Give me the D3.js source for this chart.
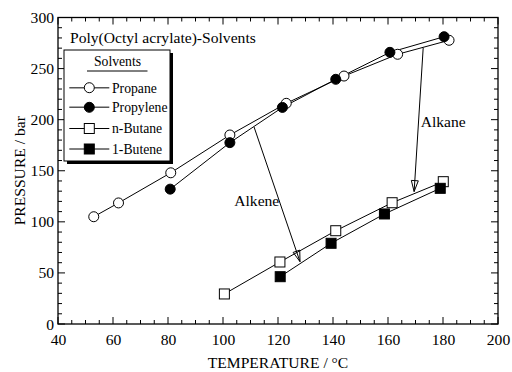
<!DOCTYPE html>
<html><head><meta charset="utf-8">
<script src="https://cdn.jsdelivr.net/npm/d3@7"></script>
<style>
html,body{margin:0;padding:0;background:#fff;}
svg{display:block;}
svg text{font-family:"Liberation Serif","Times New Roman","DejaVu Serif",serif !important;fill:#000;}
</style></head>
<body>
<svg id="c" width="512" height="372"></svg>
<script>
// ---- data ----
const propaneT   = [53, 62, 81, 102.5, 123, 144, 163.5, 182.2];
const propaneP   = [105, 118.5, 148, 185, 216, 242.7, 264, 277.7];
const propyleneT = [80.8, 102.5, 121.6, 141, 160.7, 180.4];
const propyleneP = [132, 177.5, 212, 239.5, 265.9, 281.2];
const nButaneT   = [100.5, 120.7, 141, 161.5, 180.1];
const nButaneP   = [29.4, 60.7, 91.3, 118.7, 139.3];
const buteneT    = [120.8, 139.3, 158.7, 179];
const buteneP    = [46.3, 79, 107.7, 132.8];
const seriesNames = ["Propane", "Propylene", "n-Butane", "1-Butene"];
const xTicks = [40, 60, 80, 100, 120, 140, 160, 180, 200];
const yTicks = [0, 50, 100, 150, 200, 250, 300];
const arrowLabels = ["Alkene", "Alkane"];
const arrowFromT = [111.3, 172.8];
const arrowFromP = [192.8, 270.4];
const arrowToT   = [128, 169.5];
const arrowToP   = [61, 129.6];
const labelT = [104.1, 171.9];
const labelP = [115.5, 193.1];
const titleText = "Poly(Octyl acrylate)-Solvents";
const legendTitle = "Solvents";

// ---- layout ----
const L = 58, T = 17.5, R = 498, B = 324;
const svg = d3.select("#c");
const x = d3.scaleLinear().domain([40, 200]).range([L, R]);
const y = d3.scaleLinear().domain([0, 300]).range([B, T]);

const FS = 15.6;
const FONT = "Liberation Serif";

// frame
svg.append("rect").attr("x", L).attr("y", T).attr("width", R - L).attr("height", B - T)
  .attr("fill", "none").attr("stroke", "#000").attr("stroke-width", 1.3);

// ticks (inward on all sides)
const xMinor = d3.range(40, 201, 5);
const yMinor = d3.range(0, 301, 10);
const tg = svg.append("g").attr("stroke", "#000").attr("stroke-width", 1);
xMinor.forEach(v => {
  const len = v % 20 === 0 ? 7 : 4;
  tg.append("line").attr("x1", x(v)).attr("x2", x(v)).attr("y1", B).attr("y2", B - len);
  tg.append("line").attr("x1", x(v)).attr("x2", x(v)).attr("y1", T).attr("y2", T + len);
});
yMinor.forEach(v => {
  const len = v % 50 === 0 ? 7 : 4;
  tg.append("line").attr("y1", y(v)).attr("y2", y(v)).attr("x1", L).attr("x2", L + len);
  tg.append("line").attr("y1", y(v)).attr("y2", y(v)).attr("x1", R).attr("x2", R - len);
});

// tick labels via axes (ticks hidden)
const xAxis = svg.append("g").attr("transform", `translate(0,${B})`)
  .call(d3.axisBottom(x).tickValues(xTicks).tickSize(0).tickPadding(10).tickFormat(d3.format("d")));
const yAxis = svg.append("g").attr("transform", `translate(${L},0)`)
  .call(d3.axisLeft(y).tickValues(yTicks).tickSize(0).tickPadding(4).tickFormat(d3.format("d")));
[xAxis, yAxis].forEach(a => {
  a.attr("font-family", FONT);
  a.select(".domain").remove();
  a.selectAll("text").attr("font-size", FS).attr("font-family", FONT).attr("fill", "#000");
});
xAxis.selectAll("text").attr("dy", "0.71em");

// axis titles
svg.append("text").attr("x", (L + R) / 2).attr("y", 367.5).attr("text-anchor", "middle")
  .attr("font-family", FONT).attr("font-size", FS).text("TEMPERATURE / °C");
svg.append("text").attr("transform", `translate(25,${(T + B) / 2}) rotate(-90)`)
  .attr("text-anchor", "middle").attr("font-family", FONT).attr("font-size", FS).text("PRESSURE / bar");

// title
svg.append("text").attr("x", 70).attr("y", 42.7).attr("font-family", FONT).attr("font-size", FS).text(titleText);

// series lines
const line = d3.line().x(d => x(d[0])).y(d => y(d[1]));
const zip = (a, b) => a.map((v, i) => [v, b[i]]);
const series = [
  { pts: zip(propaneT, propaneP), shape: "circle", fill: "#fff" },
  { pts: zip(propyleneT, propyleneP), shape: "circle", fill: "#000" },
  { pts: zip(nButaneT, nButaneP), shape: "square", fill: "#fff" },
  { pts: zip(buteneT, buteneP), shape: "square", fill: "#000" },
];
series.forEach(s => {
  svg.append("path").attr("d", line(s.pts)).attr("fill", "none").attr("stroke", "#000").attr("stroke-width", 1);
});

// arrows
arrowLabels.forEach((lab, i) => {
  const x1 = x(arrowFromT[i]), y1 = y(arrowFromP[i]);
  const x2 = x(arrowToT[i]), y2 = y(arrowToP[i]);
  svg.append("line").attr("x1", x1).attr("y1", y1).attr("x2", x2).attr("y2", y2)
    .attr("stroke", "#000").attr("stroke-width", 1);
  const ang = Math.atan2(y2 - y1, x2 - x1);
  const len = 11, hw = 3.5;
  const bx = x2 - len * Math.cos(ang), by = y2 - len * Math.sin(ang);
  const px = -Math.sin(ang) * hw, py = Math.cos(ang) * hw;
  svg.append("path").attr("d", `M${x2},${y2}L${bx + px},${by + py}L${bx - px},${by - py}Z`)
    .attr("fill", "none").attr("stroke", "#000").attr("stroke-width", 1);
  svg.append("text").attr("x", x(labelT[i])).attr("y", y(labelP[i]))
    .attr("font-family", FONT).attr("font-size", FS).text(lab);
});

// markers
function drawMarker(g, shape, cx, cy, fill) {
  if (shape === "circle") {
    g.append("circle").attr("cx", cx).attr("cy", cy).attr("r", 5)
      .attr("fill", fill).attr("stroke", "#000").attr("stroke-width", 1);
  } else {
    g.append("rect").attr("x", cx - 5).attr("y", cy - 5).attr("width", 10).attr("height", 10)
      .attr("fill", fill).attr("stroke", "#000").attr("stroke-width", 1);
  }
}
series.forEach(s => {
  s.pts.forEach(p => drawMarker(svg, s.shape, x(p[0]), y(p[1]), s.fill));
});

// legend
const lg = svg.append("g");
lg.append("rect").attr("x", 67).attr("y", 53).attr("width", 106).attr("height", 111).attr("fill", "#000");
lg.append("rect").attr("x", 64).attr("y", 50).attr("width", 106).attr("height", 111)
  .attr("fill", "#fff").attr("stroke", "#000").attr("stroke-width", 1);
lg.append("text").attr("x", 117.5).attr("y", 66).attr("text-anchor", "middle")
  .attr("font-family", FONT).attr("font-size", 13.7).text(legendTitle);
lg.append("line").attr("x1", 87).attr("x2", 147.5).attr("y1", 71).attr("y2", 71).attr("stroke", "#000").attr("stroke-width", 1);
const legY = [87.7, 107.3, 128.5, 149];
series.forEach((s, i) => {
  const yy = legY[i];
  lg.append("line").attr("x1", 69.3).attr("x2", 109.3).attr("y1", yy).attr("y2", yy)
    .attr("stroke", s.shape === "circle" ? "#555" : "#000").attr("stroke-width", s.shape === "circle" ? 1.4 : 1);
  drawMarker(lg, s.shape, 89.3, yy, s.fill);
  lg.append("text").attr("x", 112).attr("y", yy + 4.8)
    .attr("font-family", FONT).attr("font-size", 13.7).text(seriesNames[i]);
});
</script>
</body></html>
